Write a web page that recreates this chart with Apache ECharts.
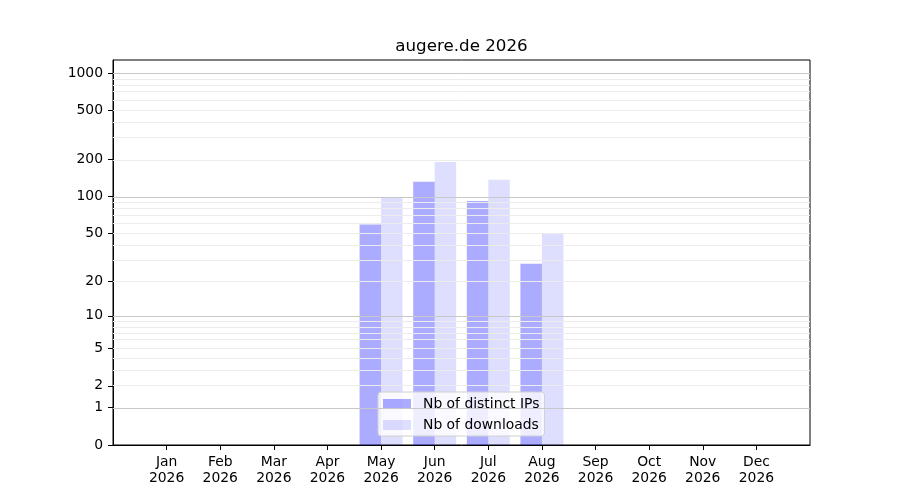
<!DOCTYPE html>
<html>
<head>
<meta charset="utf-8">
<script src="https://cdn.jsdelivr.net/npm/echarts@6/dist/echarts.min.js"></script>
<style>
  html, body { margin: 0; padding: 0; background: #fff; }
  #chart { width: 900px; height: 500px; }
</style>
</head>
<body>
<div id="chart"></div>
<script>
// months, with an empty slot on each side (matplotlib margins)
var months = ['', 'Jan\n2026', 'Feb\n2026', 'Mar\n2026', 'Apr\n2026', 'May\n2026', 'Jun\n2026',
	'Jul\n2026', 'Aug\n2026', 'Sep\n2026', 'Oct\n2026', 'Nov\n2026', 'Dec\n2026', ''];
var distinctIPs = [null, 0, 0, 0, 0, 59, 132, 92, 28, 0, 0, 0, 0, null];
var downloads = [null, 0, 0, 0, 0, 97, 191, 137, 50, 0, 0, 0, 0, null];
var yTicks = [0, 1, 2, 5, 10, 20, 50, 100, 200, 500, 1000];
var majorGrid = [1, 10, 100, 1000];
var minorGrid = [2, 3, 4, 5, 6, 7, 8, 9, 20, 30, 40, 50, 60, 70, 80, 90, 200, 300, 400, 500, 600, 700, 800, 900];

// y scale is log10(v + 1)
function tr(v) {
	return v == null ? null : Math.log10(v + 1);
}

var chart = echarts.init(document.getElementById('chart'));
var font = 'DejaVu Sans';

var option = {
	animation: false,
	textStyle: { fontFamily: font },
	title: {
		text: 'augere.de 2026',
		left: 461.5,
		top: 38,
		padding: 0,
		textAlign: 'center',
		textStyle: { fontFamily: font, fontSize: 16.7, fontWeight: 'normal', color: '#000' }
	},
	grid: {
		left: 113, right: 90, top: 60, bottom: 55,
		show: true, borderColor: '#000', borderWidth: 1, backgroundColor: 'transparent'
	},
	legend: {
		orient: 'vertical',
		left: 378,
		top: 392,
		itemWidth: 28,
		itemHeight: 10,
		itemGap: 7,
		padding: [5, 5, 4, 5],
		backgroundColor: 'rgba(255,255,255,0.8)',
		borderColor: '#d0d0d0',
		borderWidth: 1,
		borderRadius: 3,
		icon: 'rect',
		textStyle: { fontFamily: font, fontSize: 13.9, color: '#000', padding: [0, 0, 0, 7] },
		data: ['Nb of distinct IPs', 'Nb of downloads']
	},
	xAxis: {
		type: 'category',
		data: months,
		boundaryGap: false,
		axisLine: { lineStyle: { color: '#000' } },
		axisTick: {
			length: 5,
			interval: function (i, v) { return v !== ''; },
			lineStyle: { color: '#000' }
		},
		axisLabel: {
			interval: 0,
			margin: 9,
			color: '#000',
			fontFamily: font,
			fontSize: 13.9,
			lineHeight: 16
		},
		splitLine: { show: false }
	},
	yAxis: {
		type: 'value',
		min: 0,
		max: 3.105,
		axisLine: { show: true, lineStyle: { color: '#000' } },
		axisTick: {
			show: true,
			length: 5,
			customValues: yTicks.map(tr),
			lineStyle: { color: '#000' }
		},
		axisLabel: {
			customValues: yTicks.map(tr),
			margin: 10,
			color: '#000',
			fontFamily: font,
			fontSize: 13.9,
			formatter: function (v) {
				return String(Math.round(Math.pow(10, v) - 1));
			}
		},
		splitLine: { show: false }
	},
	series: [{
		name: 'Nb of distinct IPs',
		type: 'bar',
		data: distinctIPs.map(tr),
		barWidth: 21.5,
		barGap: '0%',
		itemStyle: { color: 'rgba(0,0,255,0.33)' },
		markLine: {
			silent: true,
			symbol: ['none', 'none'],
			label: { show: false },
			lineStyle: { color: '#c8c8c8', width: 1, type: 'solid' },
			data: majorGrid.map(function (v) { return { yAxis: tr(v) }; })
		}
	}, {
		name: 'Nb of downloads',
		type: 'bar',
		data: downloads.map(tr),
		barWidth: 21.5,
		barGap: '0%',
		itemStyle: { color: 'rgba(0,0,255,0.13)' },
		markLine: {
			silent: true,
			symbol: ['none', 'none'],
			label: { show: false },
			lineStyle: { color: '#ececec', width: 1, type: 'solid' },
			data: minorGrid.map(function (v) { return { yAxis: tr(v) }; })
		}
	}]
};

chart.setOption(option);
</script>
</body>
</html>
